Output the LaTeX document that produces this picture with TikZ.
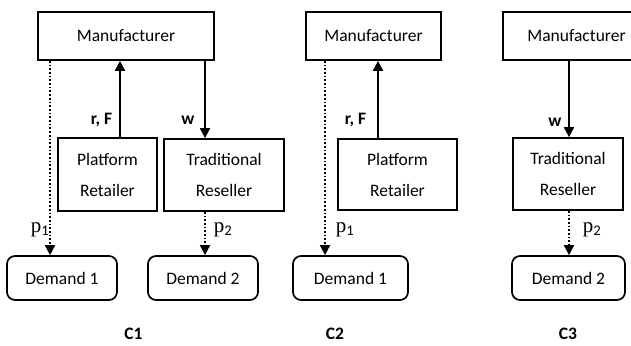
\documentclass[tikz,border=0pt]{standalone}
\usepackage{fontspec}
\setmainfont{Carlito}
\newfontfamily\pfont{Liberation Serif}
\usetikzlibrary{arrows.meta}
\begin{document}
\begin{tikzpicture}[x=1pt,y=-1pt,
  box/.style={draw, line width=1.7pt, minimum height=48pt, inner sep=0pt, font=\fontsize{17.5}{31}\selectfont, align=center},
  dem/.style={draw, line width=1.7pt, rounded corners=8pt, minimum height=44pt, inner sep=0pt, font=\fontsize{17.5}{21}\selectfont},
  arr/.style={line width=1.7pt, -{Triangle[length=10pt,width=10pt]}},
  dot/.style={line width=1.7pt, dotted, -{Triangle[length=10pt,width=10pt]}},
  lab/.style={font=\bfseries\fontsize{17.5}{21}\selectfont, inner sep=0pt},
  plab/.style={font=\pfont\fontsize{21}{24}\selectfont, inner sep=0pt},
  caplab/.style={font=\bfseries\fontsize{17.5}{21}\selectfont, inner sep=0pt}]
\useasboundingbox (0,0) rectangle (631,345);
\clip (0,0) rectangle (631,345);
% C1
\node[box, minimum width=176pt] (m1) at (126,36) {Manufacturer};
\node[box, minimum width=99pt, minimum height=73pt] (pr1) at (107.5,174.5) {Platform\\Retailer};
\node[box, minimum width=120pt, minimum height=72pt] (tr1) at (224,175) {Traditional\\Reseller};
\node[dem, minimum width=110pt] (d11) at (62,278) {Demand 1};
\node[dem, minimum width=110pt] (d12) at (203,278) {Demand 2};
\coordinate (xa) at (120,0);
\coordinate (xb) at (205,0);
\coordinate (xc) at (50,0);
\draw[arr] (pr1.north -| xa) -- (m1.south -| xa);
\draw[arr] (m1.south -| xb) -- (tr1.north -| xb);
\draw[dot] (m1.south -| xc) -- (d11.north -| xc);
\draw[dot] (tr1.south -| xb) -- (d12.north -| xb);
\node[lab] (l1) at (101.5,120) {r, F};
\node[lab] (l2) at (188,120) {w};
\node[plab] (p11) at (40,230) {p$_{\mathrm{1}}$};
\node[plab] (p12) at (223,230) {p$_{\mathrm{2}}$};
\node[caplab] (c1) at (133.5,334) {C1};
% C2
\node[box, minimum width=135pt] (m2) at (373.5,36) {Manufacturer};
\node[box, minimum width=119pt, minimum height=71pt] (pr2) at (397.5,174.5) {Platform\\Retailer};
\node[dem, minimum width=115pt] (d21) at (350.5,278) {Demand 1};
\coordinate (xd) at (378,0);
\coordinate (xe) at (325,0);
\draw[arr] (pr2.north -| xd) -- (m2.south -| xd);
\draw[dot] (m2.south -| xe) -- (d21.north -| xe);
\node[lab] (l3) at (355.5,120) {r, F};
\node[plab] (p21) at (345,230) {p$_{\mathrm{1}}$};
\node[caplab] (c2) at (335,334) {C2};
% C3
\node[box, minimum width=147pt] (m3) at (576.5,36) {Manufacturer};
\node[box, minimum width=110pt, minimum height=72pt] (tr3) at (568,174) {Traditional\\Reseller};
\node[dem, minimum width=113pt] (d32) at (568.5,278) {Demand 2};
\coordinate (xf) at (569,0);
\draw[arr] (m3.south -| xf) -- (tr3.north -| xf);
\draw[dot] (tr3.south -| xf) -- (d32.north -| xf);
\node[lab] (l4) at (555,122) {w};
\node[plab] (p32) at (592,230) {p$_{\mathrm{2}}$};
\node[caplab] (c3) at (568,334) {C3};
\end{tikzpicture}
\end{document}
